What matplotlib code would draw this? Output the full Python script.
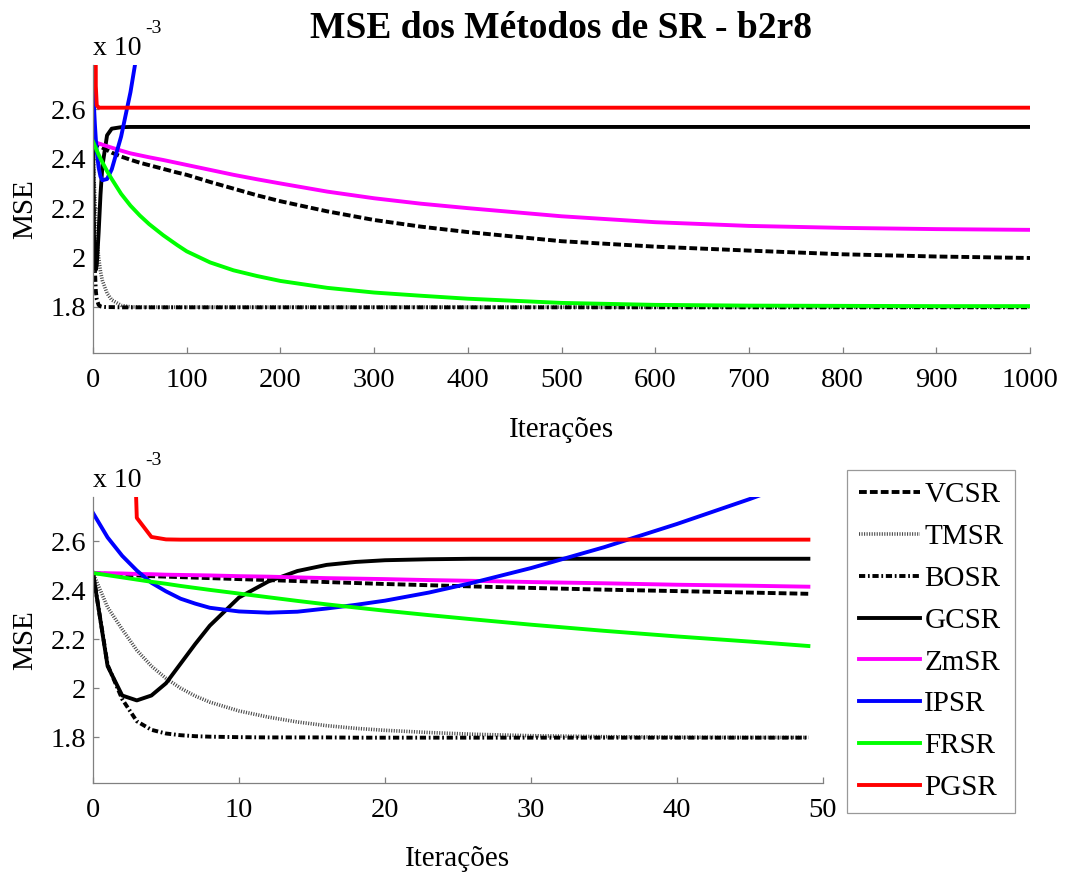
import numpy as np
import matplotlib
matplotlib.use('Agg')
import matplotlib.pyplot as plt

plt.rcParams['font.family'] = ['Liberation Serif', 'DejaVu Serif']

# MSE values are given in units of 1e-3
methods = ['VCSR', 'TMSR', 'BOSR', 'GCSR', 'ZmSR', 'IPSR', 'FRSR', 'PGSR']

# full run, sampled iterations (0..1000)
iters_full = [0, 1, 2, 3, 4, 6, 8, 10, 15, 20, 30, 40, 50, 60, 75, 90, 100, 125,
              150, 175, 200, 250, 300, 350, 400, 500, 600, 700, 800, 900, 1000]
vcsr_full = [2.470, 2.466, 2.463, 2.460, 2.457, 2.453, 2.449, 2.445, 2.435, 2.425,
             2.409, 2.396, 2.384, 2.374, 2.359, 2.344, 2.335, 2.306, 2.279, 2.252,
             2.228, 2.187, 2.152, 2.125, 2.103, 2.066, 2.044, 2.028, 2.013, 2.004,
             1.998]
tmsr_full = [2.470, 2.330, 2.240, 2.155, 2.090, 2.000, 1.943, 1.907, 1.855, 1.828,
             1.806, 1.800, 1.799, 1.799, 1.799, 1.799, 1.799, 1.799, 1.799, 1.799,
             1.799, 1.799, 1.799, 1.799, 1.799, 1.799, 1.799, 1.799, 1.799, 1.799,
             1.799]
bosr_full = [2.470, 2.095, 1.955, 1.865, 1.830, 1.808, 1.802, 1.800, 1.799, 1.799,
             1.798, 1.798, 1.798, 1.798, 1.798, 1.798, 1.798, 1.798, 1.798, 1.798,
             1.798, 1.798, 1.798, 1.798, 1.798, 1.798, 1.798, 1.798, 1.798, 1.798,
             1.798]
gcsr_full = [2.470, 2.090, 1.970, 1.950, 1.970, 2.100, 2.255, 2.370, 2.495, 2.522,
             2.528, 2.529, 2.529, 2.529, 2.529, 2.529, 2.529, 2.529, 2.529, 2.529,
             2.529, 2.529, 2.529, 2.529, 2.529, 2.529, 2.529, 2.529, 2.529, 2.529,
             2.529]
zmsr_full = [2.470, 2.469, 2.468, 2.466, 2.465, 2.462, 2.460, 2.457, 2.451, 2.445,
             2.433, 2.422, 2.414, 2.406, 2.395, 2.383, 2.375, 2.355, 2.335, 2.317,
             2.300, 2.267, 2.240, 2.218, 2.200, 2.167, 2.143, 2.128, 2.120, 2.115,
             2.112]
ipsr_full = [2.715, 2.615, 2.540, 2.480, 2.430, 2.365, 2.328, 2.313, 2.318, 2.357,
             2.490, 2.670, 2.900, np.nan, np.nan, np.nan, np.nan, np.nan, np.nan,
             np.nan, np.nan, np.nan, np.nan, np.nan, np.nan, np.nan, np.nan, np.nan,
             np.nan, np.nan, np.nan]
frsr_full = [2.470, 2.461, 2.452, 2.443, 2.434, 2.417, 2.401, 2.386, 2.350, 2.318,
             2.258, 2.210, 2.170, 2.135, 2.090, 2.050, 2.025, 1.980, 1.948, 1.925,
             1.905, 1.877, 1.858, 1.845, 1.833, 1.816, 1.808, 1.805, 1.804, 1.803,
             1.803]
pgsr_full = [6.000, 5.200, 4.500, 2.695, 2.617, 2.607, 2.607, 2.607, 2.607, 2.607,
             2.607, 2.607, 2.607, 2.607, 2.607, 2.607, 2.607, 2.607, 2.607, 2.607,
             2.607, 2.607, 2.607, 2.607, 2.607, 2.607, 2.607, 2.607, 2.607, 2.607,
             2.607]

# first 50 iterations
iters_zoom = [0, 1, 2, 3, 4, 5, 6, 7, 8, 10, 12, 14, 16, 18, 20, 23, 26, 30,
              35, 40, 45, 49]
vcsr_zoom = [2.470, 2.466, 2.463, 2.460, 2.457, 2.455, 2.453, 2.451, 2.449, 2.445,
             2.441, 2.437, 2.433, 2.429, 2.425, 2.420, 2.415, 2.409, 2.402, 2.396,
             2.390, 2.385]
tmsr_zoom = [2.470, 2.330, 2.240, 2.155, 2.090, 2.040, 2.000, 1.968, 1.943, 1.907,
             1.882, 1.862, 1.847, 1.836, 1.828, 1.819, 1.812, 1.806, 1.802, 1.800,
             1.799, 1.799]
bosr_zoom = [2.470, 2.095, 1.955, 1.865, 1.830, 1.815, 1.808, 1.804, 1.802, 1.800,
             1.799, 1.799, 1.799, 1.798, 1.798, 1.798, 1.798, 1.798, 1.798, 1.798,
             1.798, 1.798]
gcsr_zoom = [2.470, 2.090, 1.970, 1.950, 1.970, 2.020, 2.100, 2.180, 2.255, 2.370,
             2.435, 2.478, 2.503, 2.515, 2.522, 2.526, 2.528, 2.528, 2.528, 2.528,
             2.528, 2.528]
zmsr_zoom = [2.470, 2.469, 2.468, 2.466, 2.465, 2.463, 2.462, 2.461, 2.460, 2.457,
             2.455, 2.452, 2.449, 2.447, 2.445, 2.441, 2.438, 2.433, 2.428, 2.422,
             2.418, 2.414]
ipsr_zoom = [2.715, 2.615, 2.540, 2.480, 2.430, 2.395, 2.365, 2.345, 2.328, 2.313,
             2.308, 2.312, 2.325, 2.340, 2.357, 2.390, 2.430, 2.490, 2.575, 2.670,
             2.772, 2.860]
frsr_zoom = [2.470, 2.461, 2.452, 2.443, 2.434, 2.426, 2.417, 2.409, 2.401, 2.386,
             2.371, 2.356, 2.342, 2.329, 2.316, 2.298, 2.281, 2.259, 2.234, 2.211,
             2.190, 2.172]
pgsr_zoom = [6.000, 5.200, 4.500, 2.695, 2.617, 2.607, 2.606, 2.606, 2.606, 2.606,
             2.606, 2.606, 2.606, 2.606, 2.606, 2.606, 2.606, 2.606, 2.606, 2.606,
             2.606, 2.606]

ytick_vals = [1.8, 2.0, 2.2, 2.4, 2.6]
ytick_labels = ['1.8', '2', '2.2', '2.4', '2.6']
xticks_full = list(range(0, 1001, 100))
xticks_zoom = list(range(0, 51, 10))

AXIS_GRAY = '#808080'
LW = 2.8

line_styles = {
    'VCSR': dict(color='black', linestyle=(0, (2.0, 0.8))),
    'TMSR': dict(color='#4a4a4a', linestyle=(0, (0.3, 0.4)), linewidth=2.6),
    'BOSR': dict(color='black', linestyle=(0, (1.6, 0.7, 0.45, 0.7))),
    'GCSR': dict(color='black', linestyle='-'),
    'ZmSR': dict(color='#ff00ff', linestyle='-'),
    'IPSR': dict(color='#0000ff', linestyle='-'),
    'FRSR': dict(color='#00ff00', linestyle='-'),
    'PGSR': dict(color='#ff0000', linestyle='-'),
}


def style_axes(ax, xticks, xmax):
    """MATLAB-like axes: box off, grey spines, inward ticks."""
    ax.set_xlim(0, xmax)
    ax.set_ylim(1.613, 2.78)
    ax.set_xticks(xticks)
    ax.set_yticks(ytick_vals)
    ax.set_yticklabels(ytick_labels)
    for side in ['top', 'right']:
        ax.spines[side].set_visible(False)
    for side in ['left', 'bottom']:
        ax.spines[side].set_color(AXIS_GRAY)
        ax.spines[side].set_linewidth(0.9)
    ax.tick_params(direction='in', length=4, width=0.9, color=AXIS_GRAY,
                   labelsize=20.5, labelcolor='black')
    ax.tick_params(axis='x', pad=11)
    ax.tick_params(axis='y', pad=5)
    ax.set_xlabel('Iterações', fontsize=21)
    ax.set_ylabel('MSE', fontsize=21)


def plot_series(ax, iters, series):
    handles = []
    for name, values in zip(methods, series):
        kw = dict(linewidth=LW)
        kw.update(line_styles[name])
        h, = ax.plot(iters, values, label=name, **kw)
        handles.append(h)
    return handles


fig = plt.figure(figsize=(10.67, 8.73), dpi=100)
ax_top = fig.add_axes([93 / 1067, 1 - 353 / 873, 937 / 1067, 288 / 873])
ax_bot = fig.add_axes([93 / 1067, 1 - 783 / 873, 730 / 1067, 286 / 873])

plot_series(ax_top, iters_full, [vcsr_full, tmsr_full, bosr_full, gcsr_full,
                                 zmsr_full, ipsr_full, frsr_full, pgsr_full])
handles = plot_series(ax_bot, iters_zoom, [vcsr_zoom, tmsr_zoom, bosr_zoom, gcsr_zoom,
                                           zmsr_zoom, ipsr_zoom, frsr_zoom, pgsr_zoom])

style_axes(ax_top, xticks_full, 1000)
style_axes(ax_bot, xticks_zoom, 50)

ax_top.yaxis.set_label_coords(-0.058, 0.5)
ax_bot.yaxis.set_label_coords(-0.075, 0.5)
ax_top.xaxis.set_label_coords(0.5, -0.222)
ax_bot.xaxis.set_label_coords(0.5, -0.22)

# exponent marker above each y axis
for top_px in [55, 487]:
    fig.text(93 / 1067, 1 - top_px / 873, 'x 10', fontsize=20, va='baseline', ha='left')
    fig.text(145 / 1067, 1 - (top_px - 22) / 873, '-3', fontsize=14, va='baseline', ha='left')

fig.text(561 / 1067, 1 - 28 / 873, 'MSE dos Métodos de SR - b2r8', fontsize=27,
         fontweight='bold', ha='center', va='center')

leg = fig.legend(handles, methods, loc='upper left',
                 bbox_to_anchor=(847 / 1067, 1 - 470 / 873), fontsize=21,
                 fancybox=False, edgecolor=AXIS_GRAY, handlelength=2.1,
                 handletextpad=0.15, labelspacing=0.53, borderpad=0.4,
                 borderaxespad=0)
leg.get_frame().set_linewidth(0.9)

fig.savefig('out.png', dpi=100)
